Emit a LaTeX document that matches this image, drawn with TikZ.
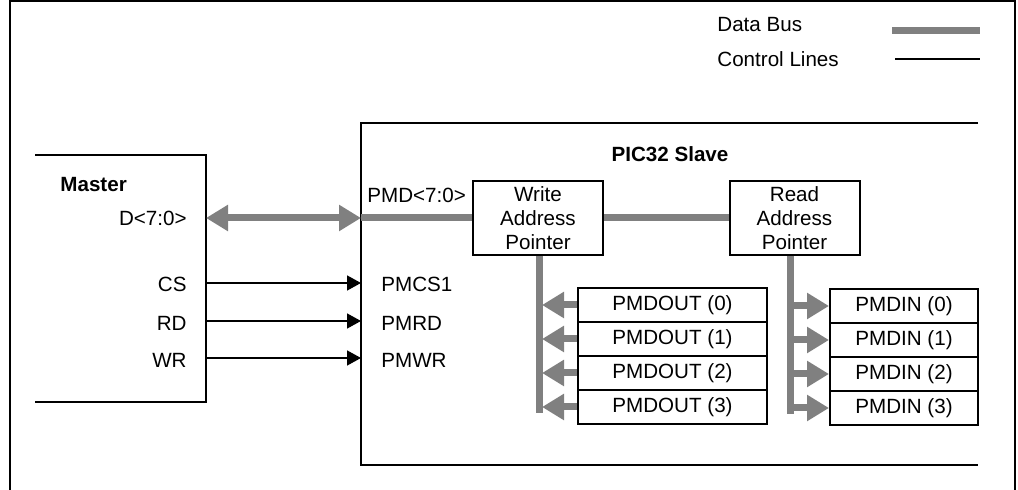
\documentclass[tikz,border=0pt]{standalone}
\usepackage{fontspec}
\setmainfont{Liberation Sans}
\usetikzlibrary{arrows.meta}
\definecolor{busgray}{RGB}{128,128,128}
\begin{document}
\begin{tikzpicture}[x=0.5pt,y=-0.5pt,
  every node/.style={font=\fontsize{10.3}{12}\selectfont, inner sep=0pt},
  frame/.style={line width=1pt},
  box/.style={draw, line width=1pt, minimum width=65pt, minimum height=37pt, align=center},
  cell/.style={draw, line width=1pt, minimum height=17pt},
  bus/.style={line width=3.5pt, draw=busgray},
  bushead/.style={-{Triangle[length=11pt,width=12.5pt]}},
  busboth/.style={{Triangle[length=11pt,width=12.5pt]}-{Triangle[length=11pt,width=12.5pt]}},
  ctrl/.style={line width=0.75pt, -{Triangle[length=7pt,width=7.5pt]}},
  lbl/.style={anchor=base west},
  rlbl/.style={anchor=base east}
]
\useasboundingbox (0,0) rectangle (1018,490);

% outer frame
\draw[frame] (10,490) -- (10,1.5) -- (1015,1.5) -- (1015,490);

% legend
\node[lbl] (lgd) at (717,32) {Data Bus};
\node[lbl] (lgc) at (717,67) {Control Lines};
\coordinate (lgdA) at (892,31);
\coordinate (lgdB) at (980,31);
\coordinate (lgcA) at (895,59);
\coordinate (lgcB) at (980,59);
\draw[bus] (lgdA) -- (lgdB);
\draw[line width=1pt] (lgcA) -- (lgcB);

% master (open box)
\draw[frame] (35,155) -- (206,155) -- (206,402) -- (35,402);
\node[lbl, font=\fontsize{10.3}{12}\selectfont\bfseries] (master) at (60,192) {Master};
\node[rlbl] (md) at (187,226) {D<7:0>};
\node[rlbl] (mcs) at (187,291.5) {CS};
\node[rlbl] (mrd) at (187,330.5) {RD};
\node[rlbl] (mwr) at (187,368) {WR};

% slave (open box)
\draw[frame] (978,123) -- (361,123) -- (361,465) -- (978,465);
\node[anchor=base, font=\fontsize{10.3}{12}\selectfont\bfseries] (slave) at (670,162) {PIC32 Slave};
\node[lbl] (spmd) at (367,203) {PMD<7:0>};
\node[lbl] (scs) at (381,292) {PMCS1};
\node[lbl] (srd) at (381,330.5) {PMRD};
\node[lbl] (swr) at (381,368) {PMWR};

% pointers
\node[box] (wap) at (538,218) {Write\\Address\\Pointer};
\node[box] (rap) at (794.5,218) {Read\\Address\\Pointer};

% registers
\node[cell, minimum width=94.5pt] (o0) at (672.5,305) {PMDOUT (0)};
\node[cell, minimum width=94.5pt] (o1) at (672.5,339) {PMDOUT (1)};
\node[cell, minimum width=94.5pt] (o2) at (672.5,373) {PMDOUT (2)};
\node[cell, minimum width=94.5pt] (o3) at (672.5,407) {PMDOUT (3)};
\node[cell, minimum width=74pt] (i0) at (904,306) {PMDIN (0)};
\node[cell, minimum width=74pt] (i1) at (904,340) {PMDIN (1)};
\node[cell, minimum width=74pt] (i2) at (904,374) {PMDIN (2)};
\node[cell, minimum width=74pt] (i3) at (904,408) {PMDIN (3)};

% data bus
\coordinate (mD) at (206,218);
\coordinate (sD) at (361,218);
\draw[bus, busboth] (mD) -- (sD);
\draw[bus] (sD) -- (wap.west);
\draw[bus] (wap.east) -- (rap.west);

\coordinate (wtop) at ([xshift=0.5pt]wap.south);
\coordinate (wbot) at ([yshift=-78.5pt]wtop);
\draw[bus] (wtop) -- (wbot);
\coordinate (rtop) at ([xshift=-2pt]rap.south);
\coordinate (rbot) at ([yshift=-79pt]rtop);
\draw[bus] (rtop) -- (rbot);

\foreach \n in {o0,o1,o2,o3}{
  \draw[bus, bushead] (\n.west) -- ++(-35,0);
}
\foreach \n in {i0,i1,i2,i3}{
  \draw[bus, bushead] (rtop |- \n.west) -- (\n.west);
}

% control lines
\coordinate (cs1) at (206,283);
\coordinate (cs2) at (361,283);
\coordinate (rd1) at (206,321);
\coordinate (rd2) at (361,321);
\coordinate (wr1) at (206,358);
\coordinate (wr2) at (361,358);
\draw[ctrl] (cs1) -- (cs2);
\draw[ctrl] (rd1) -- (rd2);
\draw[ctrl] (wr1) -- (wr2);
\end{tikzpicture}
\end{document}
